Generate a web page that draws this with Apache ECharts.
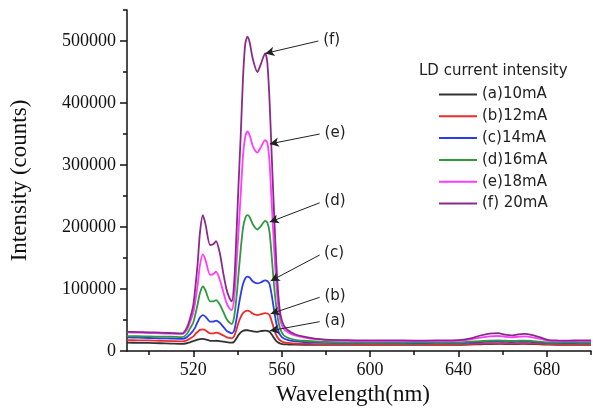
<!DOCTYPE html>
<html>
<head>
<meta charset="utf-8">
<script src="https://cdn.jsdelivr.net/npm/echarts@6/dist/echarts.min.js"></script>
<style>
  html, body { margin: 0; padding: 0; background: #fff; }
  #chart { width: 593px; height: 413px; }
</style>
</head>
<body>
<div id="chart"></div>
<script>
// Wavelength samples (nm), shared by all spectra
const wavelengths = [
  490, 495, 500, 505, 510, 515,
  517, 518.5, 520, 521, 522, 523, 524.3, 525.5, 527.6, 529, 530.3, 532, 533.6, 535, 536.3, 537.4,
  538.5, 539.5, 540.5, 541.5, 542.5, 543.5, 544.5, 545.5, 547, 549, 550.5, 552.5, 553.5, 554.5, 555.5, 556.5, 557.5, 558.5, 559.5,
  561, 563, 566, 570, 575, 580, 590, 600, 610, 620, 630, 640,
  645, 650, 654, 658, 661, 664, 667, 670, 673, 677, 681, 685, 690, 695, 700
];

// Emission intensity (counts) for each LD drive current
const spec10mA = [
  13500, 13200, 13000, 12500, 12000, 11500,
  12500, 14000, 15800, 17200, 18500, 19300, 19400, 18800, 16500, 16300, 16500, 16000, 15000, 14200, 13600, 13400,
  15000, 20000, 26000, 30000, 32500, 33500, 33500, 33000, 31500, 31000, 32000, 33000, 32500, 31000, 26500, 21000, 16500, 13500, 12000,
  10800, 10500, 10200, 10000, 10000, 10000, 9800, 10000, 10000, 9800, 10000, 10000,
  10300, 10800, 11200, 11500, 11300, 11200, 11300, 11400, 11200, 10700, 10200, 10000, 10000, 9900, 10000
];
const spec12mA = [
  17500, 17200, 17000, 16500, 16000, 15500,
  17000, 20000, 23500, 27500, 31000, 34000, 35000, 33500, 28500, 28500, 29500, 28000, 25000, 22500, 21000, 20500,
  24000, 34000, 46000, 55000, 61000, 64000, 65000, 64000, 60000, 58000, 59000, 61000, 60500, 58000, 48000, 36000, 26000, 20000, 16500,
  14000, 13000, 12000, 11500, 11200, 11000, 11000, 10800, 11000, 11000, 10800, 11000,
  11300, 11800, 12000, 12200, 12000, 11800, 12000, 12200, 12000, 11500, 11000, 11000, 10800, 11000, 11000
];
const spec14mA = [
  22000, 21500, 21000, 20500, 20000, 19500,
  22000, 27000, 33000, 39000, 47000, 54000, 58000, 55500, 47500, 47500, 49000, 45500, 39000, 33000, 30000, 28500,
  33000, 50000, 72000, 92000, 108000, 117000, 120000, 118500, 112000, 109000, 110500, 114000, 113000, 108000, 90000, 67000, 46000, 32000, 25000,
  20000, 17500, 15500, 14500, 14000, 13500, 13000, 13000, 13200, 12800, 13000, 13000,
  13500, 14300, 14800, 15000, 14700, 14500, 14700, 14900, 14500, 13800, 13000, 13000, 12800, 13000, 13000
];
const spec16mA = [
  24000, 23800, 23500, 23200, 23000, 22500,
  27000, 36000, 46000, 60000, 76000, 93000, 104000, 98000, 80000, 80000, 82000, 75000, 63000, 52000, 46000, 43500,
  55000, 85000, 125000, 165000, 198000, 214000, 219000, 216000, 204000, 196000, 201000, 210000, 207000, 192000, 152000, 108000, 73000, 48000, 34000,
  25000, 21000, 18000, 16500, 15500, 14500, 14000, 14000, 14200, 13800, 14000, 14000,
  15000, 16000, 16800, 17000, 16500, 16200, 16500, 16800, 16300, 15000, 14000, 14000, 13800, 14000, 14000
];
const spec18mA = [
  30000, 29500, 29000, 28500, 28000, 27500,
  34000, 46000, 62000, 82000, 107000, 138000, 156000, 147000, 123000, 124000, 128000, 115000, 95000, 78000, 69000, 66000,
  85000, 135000, 195000, 255000, 315000, 345000, 354000, 348000, 330000, 320000, 328000, 340000, 336000, 305000, 238000, 170000, 112000, 72000, 48000,
  35000, 30000, 25000, 22000, 19000, 17500, 16500, 16000, 16200, 15800, 16000, 16500,
  18500, 21500, 23500, 24200, 23000, 22000, 23000, 23500, 22500, 19500, 16500, 16000, 15800, 16000, 16000
];
const spec20mA = [
  31000, 30500, 30200, 29600, 29000, 28500,
  37000, 52000, 74000, 105000, 142000, 190000, 219000, 205000, 171000, 172000, 177000, 158000, 125000, 100000, 86000, 80000,
  110000, 185000, 270000, 350000, 440000, 495000, 507000, 498000, 470000, 450000, 462000, 480000, 465000, 405000, 315000, 228000, 148000, 90000, 58000,
  41000, 33000, 27000, 23000, 20000, 18500, 17500, 17000, 17200, 16800, 17000, 17500,
  20000, 25000, 28000, 28700, 26500, 25300, 26800, 27500, 26000, 22000, 17500, 17000, 16800, 17000, 17000
];

const seriesNames = ['(a)10mA', '(b)12mA', '(c)14mA', '(d)16mA', '(e)18mA', '(f) 20mA'];
const seriesValues = [spec10mA, spec12mA, spec14mA, spec16mA, spec18mA, spec20mA];
const seriesColors = ['#333333', '#ee2a2a', '#2b3cee', '#2e9a3c', '#ff3cff', '#8a2a8a'];

// Callout labels and their arrows (data coordinates: [nm, counts])
const calloutLabels = ['(a)', '(b)', '(c)', '(d)', '(e)', '(f)'];
const calloutFrom = [[577.2, 47300], [577.2, 86600], [577.2, 154800], [577.2, 239000], [577.2, 350000], [576.6, 500000]];
const calloutTo = [[554.6, 32500], [555.0, 60000], [555.0, 113000], [554.6, 208000], [554.6, 334000], [552.6, 480000]];

// Axis ticks
const xLabelTicks = [520, 560, 600, 640, 680];
const xMinorTicks = [500, 540, 580, 620, 660, 700];
const yLabelTicks = [0, 100000, 200000, 300000, 400000, 500000];
const yMinorTicks = [50000, 150000, 250000, 350000, 450000, 550000];

const serif = '"Liberation Serif", "Times New Roman", serif';
const sans = '"DejaVu Sans", sans-serif';

const chart = echarts.init(document.getElementById('chart'), null, { renderer: 'canvas' });

const axisLine = { show: true, onZero: false, lineStyle: { color: '#111', width: 1.5 } };

const series = seriesValues.map((vals, i) => ({
  name: seriesNames[i],
  type: 'line',
  xAxisIndex: 0,
  yAxisIndex: 0,
  data: wavelengths.map((w, k) => [w, vals[k]]),
  showSymbol: false,
  symbol: 'none',
  smooth: 0.25,
  lineStyle: { color: seriesColors[i], width: 1.8 },
  itemStyle: { color: seriesColors[i] },
  emphasis: { disabled: true },
  z: 2 + i,
  markLine: {
    silent: true,
    symbol: ['none', 'arrow'],
    symbolSize: [7, 9],
    lineStyle: { color: '#222', width: 1, type: 'solid' },
    label: {
      show: true,
      position: 'start',
      distance: 5,
      formatter: calloutLabels[i],
      color: '#222',
      fontFamily: sans,
      fontSize: 15
    },
    data: [[{ coord: calloutFrom[i] }, { coord: calloutTo[i] }]],
    z: 20
  }
}));

chart.setOption({
  animation: false,
  backgroundColor: '#ffffff',
  title: {
    text: 'LD current intensity',
    left: 419,
    top: 64,
    textStyle: { fontFamily: sans, fontSize: 15, fontWeight: 'normal', color: '#222' },
    padding: 0
  },
  legend: {
    orient: 'vertical',
    left: 439,
    top: 87,
    icon: 'rect',
    itemWidth: 38,
    itemHeight: 2,
    itemGap: 6.8,
    padding: 0,
    data: seriesNames,
    textStyle: { fontFamily: sans, fontSize: 15, color: '#222', lineHeight: 14 }
  },
  grid: { left: 125, right: 2, top: 10, bottom: 62, containLabel: false },
  xAxis: [
    {
      type: 'value',
      min: 490,
      max: 700,
      position: 'bottom',
      name: 'Wavelength(nm)',
      nameLocation: 'middle',
      nameGap: 29,
      nameTextStyle: { fontFamily: serif, fontSize: 23, color: '#111', padding: [0, 12, 0, 0] },
      axisLine: axisLine,
      axisTick: { show: true, inside: false, length: 6, customValues: xLabelTicks, lineStyle: { color: '#111', width: 1.5 } },
      axisLabel: { show: true, customValues: xLabelTicks, margin: 10, fontFamily: serif, fontSize: 18, color: '#111' },
      splitLine: { show: false }
    },
    {
      type: 'value',
      min: 490,
      max: 700,
      position: 'bottom',
      axisLine: { show: false },
      axisTick: { show: true, inside: false, length: 4, customValues: xMinorTicks, lineStyle: { color: '#111', width: 1.5 } },
      axisLabel: { show: false },
      splitLine: { show: false }
    }
  ],
  yAxis: [
    {
      type: 'value',
      min: 0,
      max: 550000,
      position: 'left',
      name: 'Intensity (counts)',
      nameLocation: 'middle',
      nameGap: 96,
      nameTextStyle: { fontFamily: serif, fontSize: 23, color: '#111' },
      axisLine: axisLine,
      axisTick: { show: true, inside: false, length: 7, customValues: yLabelTicks, lineStyle: { color: '#111', width: 1.5 } },
      axisLabel: {
        show: true,
        customValues: yLabelTicks,
        margin: 11,
        fontFamily: serif,
        fontSize: 18,
        color: '#111',
        formatter: (v) => String(v)
      },
      splitLine: { show: false }
    },
    {
      type: 'value',
      min: 0,
      max: 550000,
      position: 'left',
      axisLine: { show: false },
      axisTick: { show: true, inside: false, length: 4, customValues: yMinorTicks, lineStyle: { color: '#111', width: 1.5 } },
      axisLabel: { show: false },
      splitLine: { show: false }
    }
  ],
  series: series
});
</script>
</body>
</html>
